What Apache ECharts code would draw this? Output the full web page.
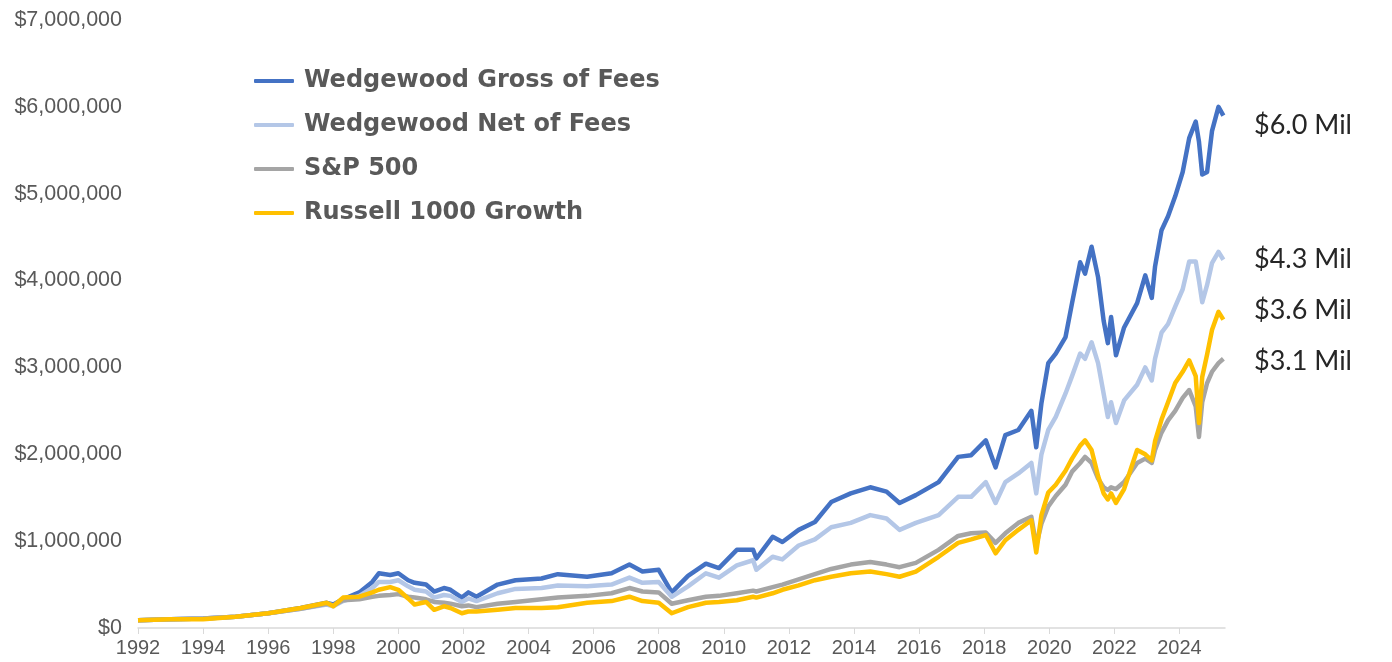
<!DOCTYPE html>
<html>
<head>
<meta charset="utf-8">
<script src="https://cdn.jsdelivr.net/npm/echarts@6/dist/echarts.min.js"></script>
<style>
  html, body { margin: 0; padding: 0; background: #fff; }
  #growthChart { width: 1392px; height: 662px; }
</style>
</head>
<body>
<div id="growthChart"></div>
<script>
// sample dates (decimal years)
var dates = [
  1992.0, 1993.0, 1994.0, 1995.0, 1996.0, 1997.0, 1997.8, 1998.0, 1998.3, 1998.8,
  1999.2, 1999.4, 1999.75, 2000.0, 2000.3, 2000.5, 2000.85, 2001.1, 2001.4, 2001.6,
  2001.95, 2002.15, 2002.4, 2003.05, 2003.6, 2004.4, 2004.9, 2005.8, 2006.55, 2007.1,
  2007.5, 2008.0, 2008.4, 2008.9, 2009.45, 2009.85, 2010.4, 2010.9, 2011.0, 2011.5,
  2011.8, 2012.3, 2012.8, 2013.3, 2013.9, 2014.5, 2015.0, 2015.4, 2015.9, 2016.6,
  2017.2, 2017.6, 2018.05, 2018.35, 2018.65, 2019.05, 2019.45, 2019.6, 2019.76, 2019.97,
  2020.2, 2020.5, 2020.7, 2020.95, 2021.1, 2021.3, 2021.5, 2021.67, 2021.8, 2021.9,
  2022.05, 2022.3, 2022.7, 2022.95, 2023.15, 2023.25, 2023.45, 2023.65, 2023.87, 2024.1,
  2024.3, 2024.5, 2024.6, 2024.7, 2024.85, 2025.0, 2025.2, 2025.35
];

// values in $ millions
var grossOfFees = [
  0.09, 0.10, 0.11, 0.13, 0.17, 0.23, 0.29, 0.27, 0.33, 0.41,
  0.53, 0.63, 0.61, 0.63, 0.55, 0.52, 0.50, 0.42, 0.46, 0.44,
  0.35, 0.41, 0.36, 0.50, 0.55, 0.57, 0.62, 0.59, 0.63, 0.73,
  0.65, 0.67, 0.41, 0.60, 0.74, 0.69, 0.90, 0.90, 0.80, 1.05,
  0.99, 1.13, 1.22, 1.45, 1.55, 1.62, 1.57, 1.44, 1.53, 1.68,
  1.97, 1.99, 2.16, 1.85, 2.22, 2.28, 2.50, 2.08, 2.59, 3.05,
  3.16, 3.35, 3.74, 4.21, 4.08, 4.39, 4.04, 3.54, 3.28, 3.58,
  3.14, 3.46, 3.74, 4.06, 3.80, 4.16, 4.58, 4.74, 4.97, 5.25,
  5.64, 5.83, 5.60, 5.22, 5.25, 5.72, 6.00, 5.90
];
var netOfFees = [
  0.09, 0.10, 0.11, 0.13, 0.17, 0.22, 0.27, 0.25, 0.31, 0.37,
  0.46, 0.53, 0.53, 0.55, 0.48, 0.44, 0.42, 0.35, 0.38, 0.37,
  0.30, 0.34, 0.31, 0.40, 0.45, 0.46, 0.49, 0.48, 0.50, 0.58,
  0.52, 0.53, 0.36, 0.48, 0.63, 0.58, 0.72, 0.78, 0.67, 0.82,
  0.79, 0.95, 1.02, 1.16, 1.21, 1.30, 1.26, 1.13, 1.21, 1.30,
  1.51, 1.51, 1.68, 1.44, 1.68, 1.78, 1.90, 1.55, 2.00, 2.28,
  2.43, 2.70, 2.90, 3.16, 3.10, 3.29, 3.05, 2.70, 2.43, 2.60,
  2.36, 2.62, 2.80, 3.00, 2.85, 3.10, 3.40, 3.50, 3.70, 3.90,
  4.22, 4.22, 4.00, 3.75, 3.95, 4.20, 4.33, 4.24
];
var sp500 = [
  0.09, 0.10, 0.11, 0.13, 0.17, 0.22, 0.28, 0.26, 0.32, 0.33,
  0.36, 0.37, 0.38, 0.39, 0.36, 0.35, 0.33, 0.30, 0.29, 0.28,
  0.25, 0.26, 0.24, 0.28, 0.30, 0.33, 0.35, 0.37, 0.40, 0.46,
  0.42, 0.41, 0.28, 0.32, 0.36, 0.37, 0.40, 0.43, 0.42, 0.47,
  0.50, 0.56, 0.62, 0.68, 0.73, 0.76, 0.73, 0.70, 0.75, 0.90,
  1.06, 1.09, 1.10, 0.98, 1.09, 1.21, 1.28, 0.95, 1.20, 1.40,
  1.52, 1.65, 1.80, 1.90, 1.97, 1.90, 1.72, 1.62, 1.59, 1.62,
  1.60, 1.68, 1.90, 1.95, 1.90, 2.05, 2.25, 2.39, 2.50, 2.65,
  2.74, 2.55, 2.20, 2.60, 2.82, 2.95, 3.05, 3.10
];
var russell1000Growth = [
  0.09, 0.10, 0.10, 0.13, 0.17, 0.23, 0.29, 0.25, 0.35, 0.36,
  0.41, 0.44, 0.47, 0.44, 0.34, 0.27, 0.30, 0.21, 0.25, 0.23,
  0.17, 0.19, 0.19, 0.21, 0.23, 0.23, 0.24, 0.29, 0.31, 0.36,
  0.31, 0.29, 0.17, 0.24, 0.29, 0.30, 0.32, 0.36, 0.35, 0.40,
  0.44, 0.49, 0.55, 0.59, 0.63, 0.65, 0.62, 0.59, 0.65, 0.82,
  0.98, 1.02, 1.07, 0.86, 1.01, 1.13, 1.24, 0.87, 1.30, 1.56,
  1.65, 1.81, 1.95, 2.10, 2.16, 2.05, 1.75, 1.55, 1.48, 1.55,
  1.44, 1.60, 2.05, 2.00, 1.93, 2.15, 2.40, 2.60, 2.82, 2.95,
  3.08, 2.90, 2.36, 2.89, 3.15, 3.43, 3.64, 3.55
];

var seriesNames = ['Wedgewood Gross of Fees', 'Wedgewood Net of Fees', 'S&P 500', 'Russell 1000 Growth'];
var seriesColors = ['#4472C4', '#B4C7E7', '#A5A5A5', '#FFC000'];
var yearTicks = [1992, 1994, 1996, 1998, 2000, 2002, 2004, 2006, 2008, 2010, 2012, 2014, 2016, 2018, 2020, 2022, 2024];
var endTexts = ['$6.0 Mil', '$4.3 Mil', '$3.6 Mil', '$3.1 Mil'];

function pairs(vals) {
  return dates.map(function (d, i) { return [d, vals[i]]; });
}
function dollars(v) {
  var n = Math.round(v * 1000000).toString();
  return '$' + n.replace(/\B(?=(\d{3})+(?!\d))/g, ',');
}

var myChart = echarts.init(document.getElementById('growthChart'));
var allVals = [grossOfFees, netOfFees, sp500, russell1000Growth];
var endY = [128, 262, 313, 364];

var option = {
  animation: false,
  grid: { left: 138, right: 167, top: 20, bottom: 34 },
  legend: {
    orient: 'vertical',
    left: 249,
    top: 63,
    itemWidth: 40,
    itemHeight: 4,
    itemGap: 18,
    icon: 'roundRect',
    textStyle: {
      fontFamily: 'DejaVu Sans',
      fontWeight: 'bold',
      fontSize: 24,
      lineHeight: 26,
      color: '#595959',
      padding: [0, 0, 0, 5]
    },
    data: seriesNames
  },
  xAxis: {
    type: 'value',
    min: 1992,
    max: 2025.4,
    interval: 2,
    axisLine: { lineStyle: { color: '#D9D9D9', width: 1.5 } },
    axisTick: { show: true, length: 6, lineStyle: { color: '#D9D9D9' }, customValues: yearTicks },
    axisLabel: {
      customValues: yearTicks,
      formatter: function (v) { return String(Math.round(v)); },
      fontFamily: 'Liberation Sans',
      fontSize: 20,
      color: '#595959',
      margin: 10
    },
    splitLine: { show: false }
  },
  yAxis: {
    type: 'value',
    min: 0,
    max: 7,
    interval: 1,
    axisLine: { show: false },
    axisTick: { show: false },
    splitLine: { show: false },
    axisLabel: {
      formatter: dollars,
      fontFamily: 'Liberation Sans',
      fontSize: 21.5,
      color: '#595959',
      margin: 16
    }
  },
  graphic: endTexts.map(function (t, i) {
    return {
      type: 'text',
      left: 1254,
      top: endY[i] - 16,
      style: { text: t, font: '27px Lato', fill: '#262626' }
    };
  }),
  series: seriesNames.map(function (name, i) {
    return {
      name: name,
      type: 'line',
      data: pairs(allVals[i]),
      showSymbol: false,
      color: seriesColors[i],
      lineStyle: { width: 4.5, color: seriesColors[i], join: 'round' },
      z: 2 + i
    };
  })
};
myChart.setOption(option, true);
</script>
</body>
</html>
